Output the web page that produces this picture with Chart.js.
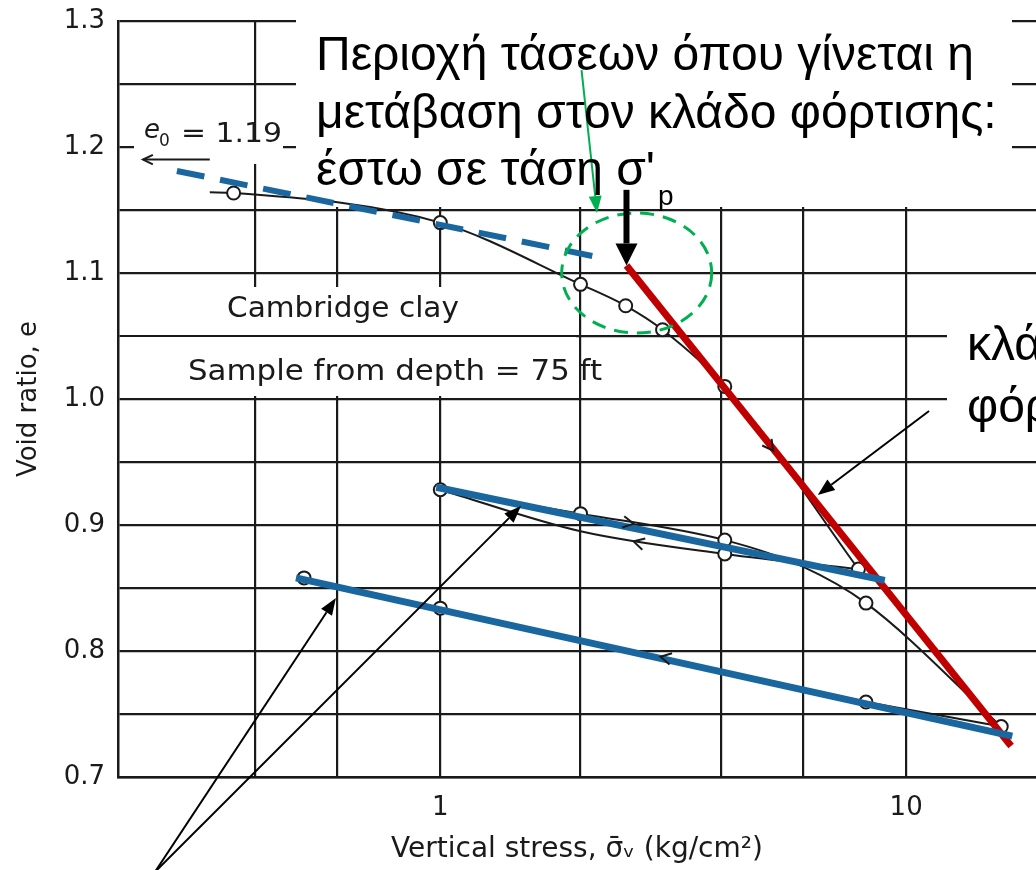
<!DOCTYPE html>
<html><head><meta charset="utf-8">
<script src="https://cdn.jsdelivr.net/npm/chart.js@4/dist/chart.umd.min.js"></script>
<style>html,body{margin:0;padding:0;background:#fff;overflow:hidden}canvas{display:block}</style>
</head><body>
<canvas id="c" width="1036" height="870"></canvas>
<script>
// ---------- axis ticks ----------
const xGridValues = [0.4, 0.6, 1, 2, 4, 6, 10];
const xTickLabels = ['', '', '1', '', '', '', '10'];
const yGridValues = [0.7, 0.75, 0.8, 0.85, 0.9, 0.95, 1.0, 1.05, 1.1, 1.15, 1.2, 1.25, 1.3];
const yTickLabels = ['0.7', '', '0.8', '', '0.9', '', '1.0', '', '1.1', '', '1.2', '', '1.3'];

// ---------- measured curves (stress kg/cm2, void ratio) ----------
const loadingStress = [0.32, 0.36, 1, 2, 2.5, 3, 4.08, 7.9];
const loadingVoid   = [1.164, 1.1635, 1.14, 1.091, 1.074, 1.055, 1.010, 0.865];
const unloadStress  = [1, 2, 4.08, 7.9];
const unloadVoid    = [0.928, 0.895, 0.877, 0.865];
const reloadStress  = [1, 2, 4.08, 6, 8.2, 16];
const reloadVoid    = [0.928, 0.909, 0.888, 0.867, 0.838, 0.740];
const finalStress   = [0.51, 1, 8.2, 16];
const finalVoid     = [0.858, 0.834, 0.7595, 0.740];
const pointStress   = [0.36, 1, 2, 2.5, 3, 4.08, 7.9, 4.08, 1, 2, 4.08, 8.2, 16, 8.2, 1, 0.51];
const pointVoid     = [1.1635, 1.14, 1.091, 1.074, 1.055, 1.010, 0.865, 0.877, 0.928, 0.909, 0.888, 0.838, 0.740, 0.7595, 0.834, 0.858];

// ---------- drawn-over interpretation lines ----------
const dashedStress = [0.272, 2.29];  const dashedVoid = [1.181, 1.111];
const recompStress = [0.98, 9.0];    const recompVoid = [0.930, 0.856];
const swellStress  = [0.49, 16.9];   const swellVoid  = [0.858, 0.7325];
const virginStress = [2.51, 16.8];   const virginVoid = [1.106, 0.7246];

// ---------- annotation anchors (data coords) ----------
const spArrow = { stress: 2.51, top: 1.166, tip: 1.106 };
const greenArrow = { from: [2.01, 1.261], to: [2.17, 1.1476] };
const greenEllipse = { stress: 2.64, voidRatio: 1.1 };
const branchArrow = { from: [11.2, 0.9905], to: [6.46, 0.9238] };
const bottomArrows = [
  { from: [0.244, 0.6246], to: [0.597, 0.842] },
  { from: [0.244, 0.6246], to: [1.49, 0.915] }
];
const flowArrows = [
  { at: [5.18, 0.959], toward: [7.9, 0.865] },
  { at: [2.6, 0.901], toward: [4.08, 0.888] },
  { at: [2.6, 0.887], toward: [1, 0.928] },
  { at: [2.97, 0.7955], toward: [1, 0.834] }
];
const e0Arrow = { from: [0.32, 1.19], to: [0.23, 1.19] };

const greekLines = ['Περιοχή τάσεων όπου γίνεται η', 'μετάβαση στον κλάδο φόρτισης:', "έστω σε τάση σ'"];
const branchLabel = ['κλάδος', 'φόρτισης'];

const X_MIN = 0.2033, X_MAX = 19;

function pts(xs, ys) { return xs.map((x, i) => ({ x: x, y: ys[i] })); }

const INK = '#1a1a1a';
const BLUE = '#1a67a0';
const RED = '#c00000';
const GREEN = '#00b050';

function drawFilledArrow(ctx, x1, y1, x2, y2, color, lw, headLen, headHalf) {
  const a = Math.atan2(y2 - y1, x2 - x1);
  const bx = x2 - headLen * Math.cos(a), by = y2 - headLen * Math.sin(a);
  ctx.strokeStyle = color; ctx.lineWidth = lw; ctx.setLineDash([]);
  ctx.beginPath(); ctx.moveTo(x1, y1); ctx.lineTo(bx, by); ctx.stroke();
  ctx.fillStyle = color; ctx.beginPath(); ctx.moveTo(x2, y2);
  ctx.lineTo(bx + headHalf * Math.sin(a), by - headHalf * Math.cos(a));
  ctx.lineTo(bx - headHalf * Math.sin(a), by + headHalf * Math.cos(a));
  ctx.closePath(); ctx.fill();
}
function drawBarbs(ctx, x, y, a, len, spread, color, lw) {
  ctx.strokeStyle = color; ctx.lineWidth = lw; ctx.setLineDash([]);
  ctx.beginPath();
  ctx.moveTo(x - len * Math.cos(a - spread), y - len * Math.sin(a - spread));
  ctx.lineTo(x, y);
  ctx.lineTo(x - len * Math.cos(a + spread), y - len * Math.sin(a + spread));
  ctx.stroke();
}
function fitText(ctx, text, x, y, font, width) {
  ctx.font = font;
  const w = ctx.measureText(text).width;
  ctx.save(); ctx.translate(x, y); ctx.scale(width / w, 1); ctx.fillText(text, 0, 0); ctx.restore();
}

const whiteBoxes = [[296, 0, 1012, 207], [134, 140, 283, 164], [120, 287, 576, 335], [120, 337, 576, 396], [947, 318, 1036, 452]];

const overlay = {
  id: 'overlay',
  beforeDatasetsDraw(chart) {
    const ctx = chart.ctx; ctx.save(); ctx.fillStyle = '#fff';
    whiteBoxes.forEach(b => ctx.fillRect(b[0], b[1], b[2] - b[0], b[3] - b[1]));
    ctx.restore();
  },
  afterDatasetsDraw(chart) {
    const ctx = chart.ctx, xs = chart.scales.x, ys = chart.scales.y;
    const P = (p) => [xs.getPixelForValue(p[0]), ys.getPixelForValue(p[1])];
    ctx.save();
    ctx.textBaseline = 'alphabetic'; ctx.textAlign = 'left';

    flowArrows.forEach(f => {
      const a = P(f.at), b = P(f.toward);
      drawBarbs(ctx, a[0], a[1], Math.atan2(b[1] - a[1], b[0] - a[0]), 12, 0.5, INK, 2);
    });

    ctx.fillStyle = INK;
    fitText(ctx, 'Cambridge clay', 227, 317, '29px "DejaVu Sans"', 232);
    fitText(ctx, 'Sample from depth = 75 ft', 188, 380, '29px "DejaVu Sans"', 414);
    ctx.font = 'italic 26px "DejaVu Sans"'; ctx.fillText('e', 144, 138);
    ctx.font = '17px "DejaVu Sans"'; ctx.fillText('0', 159, 146);
    fitText(ctx, '= 1.19', 181, 142, '26px "DejaVu Sans"', 101);
    const ea = P(e0Arrow.from), eb = P(e0Arrow.to);
    ctx.strokeStyle = INK; ctx.lineWidth = 2;
    ctx.beginPath(); ctx.moveTo(ea[0], ea[1]); ctx.lineTo(eb[0], eb[1]); ctx.stroke();
    drawBarbs(ctx, eb[0], eb[1], Math.PI, 11, 0.45, INK, 2);

    const ec = P([greenEllipse.stress, greenEllipse.voidRatio]);
    ctx.strokeStyle = GREEN; ctx.lineWidth = 3; ctx.setLineDash([14, 9]);
    ctx.beginPath(); ctx.ellipse(ec[0], ec[1], 75, 60, 0, 0, Math.PI * 2); ctx.stroke();
    ctx.setLineDash([]);
    const g1 = P(greenArrow.from), g2 = P(greenArrow.to);
    drawFilledArrow(ctx, g1[0], g1[1], g2[0], g2[1], GREEN, 2, 17, 6.5);

    const s1 = P([spArrow.stress, spArrow.top]), s2 = P([spArrow.stress, spArrow.tip]);
    drawFilledArrow(ctx, s1[0], s1[1], s2[0], s2[1], '#000', 6, 22, 11);

    const k1 = P(branchArrow.from), k2 = P(branchArrow.to);
    drawFilledArrow(ctx, k1[0], k1[1], k2[0], k2[1], '#000', 2, 17, 6.5);
    bottomArrows.forEach(b => {
      const p1 = P(b.from), p2 = P(b.to);
      drawFilledArrow(ctx, p1[0], p1[1], p2[0], p2[1], '#000', 2, 17, 6.5);
    });

    ctx.fillStyle = '#000';
    ctx.font = '48px "Liberation Sans", Arial, sans-serif';
    ctx.fillText(greekLines[0], 316, 70);
    ctx.fillText(greekLines[1], 316, 128);
    ctx.fillText(greekLines[2], 316, 185);
    const w3 = ctx.measureText(greekLines[2]).width;
    ctx.font = '28px "Liberation Sans", Arial, sans-serif';
    ctx.fillText('p', 316 + w3 + 3, 205);
    ctx.font = '48px "Liberation Sans", Arial, sans-serif';
    ctx.fillText(branchLabel[0], 967, 360);
    ctx.fillText(branchLabel[1], 967, 422);
    ctx.restore();
  }
};

const lineDs = (data, color, width, order, extra) => Object.assign({
  data: data, showLine: true, borderColor: color, borderWidth: width, pointRadius: 0,
  pointHoverRadius: 0, fill: false, order: order, borderCapStyle: 'butt'
}, extra || {});

new Chart(document.getElementById('c'), {
  type: 'scatter',
  data: {
    datasets: [
      lineDs(pts(dashedStress, dashedVoid), BLUE, 6, 1, { borderDash: [28, 16] }),
      lineDs(pts(recompStress, recompVoid), BLUE, 7, 2),
      lineDs(pts(swellStress, swellVoid), BLUE, 7, 2),
      lineDs(pts(virginStress, virginVoid), RED, 7, 3),
      { data: pts(pointStress, pointVoid), showLine: false, pointRadius: 6.5, pointBorderWidth: 2,
        pointBackgroundColor: '#fff', pointBorderColor: INK, pointHoverRadius: 6.5, order: 4 },
      lineDs(pts(loadingStress, loadingVoid), INK, 2, 5, { cubicInterpolationMode: 'monotone' }),
      lineDs(pts(unloadStress, unloadVoid), INK, 2, 5, { cubicInterpolationMode: 'monotone' }),
      lineDs(pts(reloadStress, reloadVoid), INK, 2, 5, { cubicInterpolationMode: 'monotone' }),
      lineDs(pts(finalStress, finalVoid), INK, 2, 5, { tension: 0 })
    ]
  },
  options: {
    responsive: false, animation: false, events: [],
    layout: { autoPadding: false, padding: { top: 21, right: 0, bottom: 0, left: 0 } },
    plugins: { legend: { display: false }, tooltip: { enabled: false } },
    scales: {
      x: {
        type: 'logarithmic', min: X_MIN, max: X_MAX,
        afterBuildTicks: s => { s.ticks = xGridValues.map(v => ({ value: v })); },
        afterFit: s => { s.height = 93; s.paddingLeft = 0; s.paddingRight = 0; },
        grid: { color: INK, lineWidth: 2.2, drawTicks: false },
        border: { color: INK, width: 2.5 },
        ticks: { padding: 16, color: INK, autoSkip: false, maxRotation: 0,
                 font: { family: 'DejaVu Sans', size: 26 },
                 callback: (v, i) => xTickLabels[i] },
        title: { display: true, text: 'Vertical stress, σ\u0304\u1d65 (kg/cm²)', color: INK,
                 font: { family: 'DejaVu Sans', size: 28 }, padding: { top: 0, bottom: 3 } }
      },
      y: {
        min: 0.7, max: 1.3,
        afterBuildTicks: s => { s.ticks = yGridValues.map(v => ({ value: v })); },
        afterFit: s => { s.width = 118; s.paddingTop = 0; s.paddingBottom = 0; },
        grid: { color: INK, lineWidth: 2.2, drawTicks: false },
        border: { color: INK, width: 2.5 },
        ticks: { padding: 13, color: INK, autoSkip: false,
                 font: { family: 'DejaVu Sans', size: 26 },
                 callback: (v, i) => yTickLabels[i] },
        title: { display: true, text: 'Void ratio, e', color: INK,
                 font: { family: 'DejaVu Sans', size: 26 }, padding: { top: 14, bottom: 0 } }
      }
    }
  },
  plugins: [overlay]
});
</script>
</body></html>
